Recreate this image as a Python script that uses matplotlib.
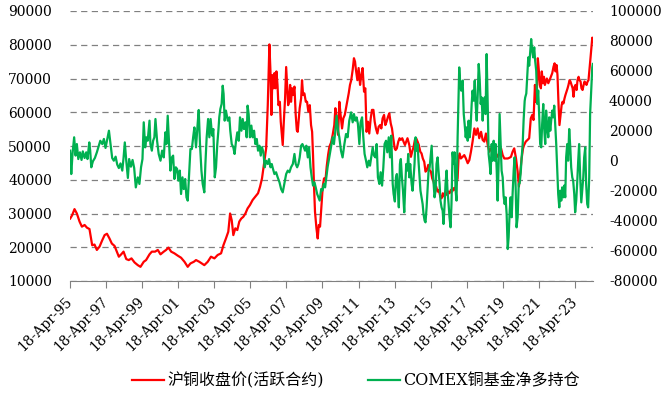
import numpy as np
import matplotlib
matplotlib.use("Agg")
import matplotlib.pyplot as plt

plt.rcParams['font.family'] = ['DejaVu Serif', 'Noto Sans CJK SC']
plt.rcParams['axes.unicode_minus'] = False

# 沪铜收盘价 (decimal year, 元/吨)
cu_t = [1995.30, 1995.41, 1995.54, 1995.67, 1995.82, 1995.95, 1996.10, 1996.23, 1996.37, 1996.52,
        1996.65, 1996.78, 1996.93, 1997.08, 1997.21, 1997.34, 1997.48, 1997.61, 1997.76, 1997.85,
        1998.00, 1998.13, 1998.26, 1998.41, 1998.55, 1998.70, 1998.87, 1999.05, 1999.20, 1999.38,
        1999.51, 1999.70, 1999.83, 2000.01, 2000.16, 2000.31, 2000.49, 2000.62, 2000.75, 2000.90,
        2001.08, 2001.27, 2001.45, 2001.64, 2001.82, 2001.97, 2002.16, 2002.28, 2002.46, 2002.74,
        2002.93, 2003.11, 2003.30, 2003.48, 2003.67, 2003.80, 2003.94, 2004.07, 2004.17, 2004.26,
        2004.35, 2004.46, 2004.57, 2004.68, 2004.79, 2004.90, 2005.02, 2005.14, 2005.27, 2005.42,
        2005.57, 2005.72, 2005.83, 2005.94, 2006.07, 2006.17, 2006.26, 2006.35, 2006.41, 2006.46,
        2006.52, 2006.57, 2006.63, 2006.68, 2006.74, 2006.80, 2006.85, 2006.93, 2006.98, 2007.04,
        2007.09, 2007.15, 2007.22, 2007.28, 2007.33, 2007.39, 2007.44, 2007.50, 2007.55, 2007.61,
        2007.66, 2007.74, 2007.81, 2007.87, 2007.92, 2007.98, 2008.03, 2008.11, 2008.16, 2008.22,
        2008.29, 2008.37, 2008.44, 2008.51, 2008.59, 2008.66, 2008.72, 2008.77, 2008.83, 2008.88,
        2008.96, 2009.03, 2009.09, 2009.16, 2009.24, 2009.31, 2009.38, 2009.46, 2009.53, 2009.61,
        2009.68, 2009.77, 2009.86, 2009.95, 2010.01, 2010.08, 2010.16, 2010.23, 2010.30, 2010.38,
        2010.45, 2010.53, 2010.60, 2010.67, 2010.75, 2010.82, 2010.89, 2010.97, 2011.04, 2011.10,
        2011.15, 2011.23, 2011.30, 2011.38, 2011.45, 2011.52, 2011.60, 2011.67, 2011.74, 2011.82,
        2011.89, 2011.97, 2012.04, 2012.12, 2012.19, 2012.26, 2012.34, 2012.41, 2012.49, 2012.56,
        2012.63, 2012.71, 2012.78, 2012.85, 2012.93, 2013.00, 2013.08, 2013.15, 2013.22, 2013.30,
        2013.35, 2013.42, 2013.50, 2013.57, 2013.64, 2013.72, 2013.79, 2013.87, 2013.94, 2014.01,
        2014.11, 2014.20, 2014.27, 2014.35, 2014.42, 2014.49, 2014.57, 2014.64, 2014.72, 2014.79,
        2014.86, 2014.94, 2015.01, 2015.09, 2015.16, 2015.23, 2015.31, 2015.38, 2015.46, 2015.53,
        2015.60, 2015.68, 2015.75, 2015.83, 2015.90, 2015.97, 2016.05, 2016.12, 2016.20, 2016.27,
        2016.34, 2016.42, 2016.49, 2016.57, 2016.64, 2016.71, 2016.79, 2016.84, 2016.90, 2016.97,
        2017.07, 2017.16, 2017.25, 2017.35, 2017.44, 2017.53, 2017.62, 2017.72, 2017.81, 2017.90,
        2017.99, 2018.09, 2018.18, 2018.27, 2018.36, 2018.46, 2018.55, 2018.64, 2018.73, 2018.83,
        2018.92, 2019.01, 2019.11, 2019.20, 2019.29, 2019.38, 2019.48, 2019.57, 2019.66, 2019.75,
        2019.84, 2019.93, 2020.03, 2020.12, 2020.19, 2020.27, 2020.34, 2020.42, 2020.48, 2020.57,
        2020.67, 2020.76, 2020.85, 2020.93, 2021.00, 2021.08, 2021.13, 2021.19, 2021.24, 2021.30,
        2021.35, 2021.41, 2021.46, 2021.52, 2021.58, 2021.63, 2021.69, 2021.74, 2021.82, 2021.89,
        2021.96, 2022.04, 2022.11, 2022.17, 2022.22, 2022.28, 2022.33, 2022.39, 2022.44, 2022.50,
        2022.56, 2022.61, 2022.66, 2022.72, 2022.77, 2022.83, 2022.89, 2022.94, 2023.00, 2023.05,
        2023.11, 2023.17, 2023.22, 2023.28, 2023.33, 2023.39, 2023.44, 2023.50, 2023.55, 2023.61,
        2023.66, 2023.72, 2023.78, 2023.83, 2023.89, 2023.94, 2024.00, 2024.05, 2024.11, 2024.16,
        2024.22, 2024.26, 2024.29]
cu_v = [28500, 29500, 31300, 30000, 27600, 26100, 26600, 25800, 25400, 20600,
        20800, 19200, 20200, 22100, 23600, 24000, 22600, 21100, 20400, 19200,
        17200, 17900, 18700, 16500, 16200, 16700, 15500, 14700, 14200, 15700,
        16200, 17900, 18700, 18700, 19200, 17900, 18700, 19200, 19900, 18700,
        18200, 17500, 16900, 15700, 14200, 15200, 15700, 16200, 15700, 14700,
        15700, 17200, 16700, 17700, 18200, 20600, 22600, 24600, 30000, 28000,
        23600, 25600, 25100, 27600, 28500, 29000, 30000, 31500, 32500, 34000,
        35000, 36000, 37900, 40400, 45300, 49300, 62100, 80100, 72000, 59200,
        71000, 67100, 71600, 67100, 72100, 68100, 62100, 63100, 57200, 53300,
        50300, 57200, 64100, 73400, 68100, 62100, 63100, 68100, 63100, 67100,
        65100, 67600, 59200, 54700, 54200, 58200, 61200, 64100, 69500, 65100,
        65600, 63100, 63100, 60200, 62100, 56200, 54200, 47300, 37500, 30500,
        25600, 22600, 26600, 26100, 32500, 38000, 40400, 39900, 44000, 47500,
        49800, 51000, 53300, 56200, 61200, 58200, 53300, 63100, 59200, 55200,
        58200, 59200, 61200, 63100, 65600, 68100, 69500, 72600, 76000, 75000,
        72600, 69500, 73100, 68100, 71000, 73100, 66100, 67100, 54200, 57200,
        53700, 58200, 60700, 60700, 57200, 55200, 53700, 55700, 56200, 55200,
        58200, 59200, 56200, 57200, 58700, 59700, 56700, 55200, 52300, 49300,
        48800, 49300, 51300, 52300, 51800, 52300, 51300, 50300, 51300, 52300,
        50300, 46800, 48300, 49800, 51800, 52300, 51300, 50300, 48300, 47800,
        46300, 45300, 42400, 42900, 44400, 42900, 42400, 40400, 39400, 37500,
        38000, 36500, 37000, 35000, 34500, 36000, 35000, 36500, 35500, 36500,
        36000, 37000, 36500, 37500, 37000, 38500, 40400, 46300, 47800, 46300,
        46800, 47300, 46300, 44900, 45800, 48300, 51300, 55200, 53300, 55200,
        52300, 54200, 51800, 51300, 53700, 50300, 48300, 49300, 48300, 49300,
        47800, 46800, 47800, 49300, 47300, 46300, 46300, 46300, 46500, 46800,
        48300, 49300, 46300, 42400, 38000, 42400, 46300, 49300, 50300, 51300,
        51800, 52300, 58200, 59200, 57700, 68100, 63100, 67100, 76000, 72100,
        68100, 67100, 72100, 68600, 70500, 68100, 69100, 70000, 68600, 69500,
        70500, 71600, 73500, 74500, 72100, 74000, 71000, 62100, 56200, 59200,
        62100, 63100, 62600, 64100, 65100, 66100, 67100, 68100, 69500, 69100,
        68100, 67100, 64600, 67600, 68100, 66600, 69500, 70500, 69500, 69100,
        67100, 66600, 68100, 69100, 68600, 68100, 69100, 69500, 73000, 76000,
        79900, 82100, 81000]

# COMEX铜基金净多持仓 (decimal year, 手)
fund_t = [1995.30, 1995.36, 1995.43, 1995.52, 1995.60, 1995.67, 1995.75, 1995.84, 1995.93, 1996.00,
          1996.10, 1996.19, 1996.26, 1996.36, 1996.41, 1996.47, 1996.56, 1996.67, 1996.78, 1996.89,
          1996.97, 1997.08, 1997.17, 1997.26, 1997.34, 1997.45, 1997.54, 1997.63, 1997.72, 1997.82,
          1997.91, 1998.00, 1998.09, 1998.19, 1998.26, 1998.33, 1998.41, 1998.50, 1998.57, 1998.67,
          1998.76, 1998.85, 1998.94, 1999.05, 1999.14, 1999.23, 1999.31, 1999.38, 1999.46, 1999.53,
          1999.60, 1999.70, 1999.75, 1999.83, 1999.90, 1999.97, 2000.03, 2000.12, 2000.21, 2000.31,
          2000.40, 2000.49, 2000.58, 2000.64, 2000.71, 2000.79, 2000.86, 2000.94, 2001.01, 2001.08,
          2001.16, 2001.23, 2001.30, 2001.38, 2001.45, 2001.53, 2001.60, 2001.68, 2001.75, 2001.82,
          2001.90, 2001.97, 2002.05, 2002.12, 2002.19, 2002.28, 2002.37, 2002.43, 2002.50, 2002.58,
          2002.65, 2002.74, 2002.80, 2002.87, 2002.95, 2003.02, 2003.09, 2003.17, 2003.24, 2003.32,
          2003.39, 2003.46, 2003.52, 2003.57, 2003.63, 2003.70, 2003.76, 2003.81, 2003.87, 2003.94,
          2004.04, 2004.13, 2004.18, 2004.26, 2004.35, 2004.42, 2004.50, 2004.57, 2004.65, 2004.72,
          2004.80, 2004.87, 2004.94, 2005.02, 2005.09, 2005.14, 2005.20, 2005.27, 2005.35, 2005.42,
          2005.50, 2005.57, 2005.65, 2005.72, 2005.80, 2005.87, 2005.94, 2006.02, 2006.09, 2006.17,
          2006.26, 2006.33, 2006.41, 2006.48, 2006.55, 2006.63, 2006.72, 2006.81, 2006.91, 2007.00,
          2007.09, 2007.18, 2007.28, 2007.37, 2007.46, 2007.55, 2007.65, 2007.74, 2007.81, 2007.89,
          2007.96, 2008.03, 2008.11, 2008.18, 2008.26, 2008.33, 2008.40, 2008.48, 2008.55, 2008.63,
          2008.70, 2008.77, 2008.85, 2008.92, 2009.00, 2009.07, 2009.14, 2009.22, 2009.29, 2009.37,
          2009.44, 2009.51, 2009.58, 2009.67, 2009.77, 2009.86, 2009.93, 2010.01, 2010.08, 2010.16,
          2010.23, 2010.32, 2010.41, 2010.51, 2010.60, 2010.69, 2010.78, 2010.88, 2010.97, 2011.04,
          2011.12, 2011.19, 2011.26, 2011.34, 2011.41, 2011.49, 2011.56, 2011.63, 2011.71, 2011.78,
          2011.86, 2011.93, 2012.00, 2012.08, 2012.15, 2012.23, 2012.30, 2012.37, 2012.45, 2012.52,
          2012.60, 2012.67, 2012.74, 2012.82, 2012.89, 2012.97, 2013.04, 2013.11, 2013.19, 2013.24,
          2013.31, 2013.37, 2013.42, 2013.48, 2013.53, 2013.59, 2013.64, 2013.70, 2013.76, 2013.83,
          2013.89, 2013.94, 2014.00, 2014.05, 2014.11, 2014.16, 2014.24, 2014.29, 2014.35, 2014.40,
          2014.46, 2014.51, 2014.57, 2014.62, 2014.68, 2014.73, 2014.79, 2014.85, 2014.90, 2014.96,
          2015.01, 2015.07, 2015.12, 2015.18, 2015.24, 2015.29, 2015.35, 2015.40, 2015.46, 2015.51,
          2015.57, 2015.62, 2015.68, 2015.73, 2015.79, 2015.84, 2015.90, 2015.96, 2016.01, 2016.07,
          2016.12, 2016.18, 2016.23, 2016.29, 2016.34, 2016.40, 2016.45, 2016.51, 2016.57, 2016.62,
          2016.68, 2016.73, 2016.79, 2016.84, 2016.88, 2016.94, 2016.99, 2017.07, 2017.13, 2017.18,
          2017.24, 2017.29, 2017.35, 2017.40, 2017.46, 2017.51, 2017.57, 2017.62, 2017.68, 2017.74,
          2017.79, 2017.85, 2017.90, 2017.96, 2018.01, 2018.07, 2018.12, 2018.18, 2018.23, 2018.29,
          2018.34, 2018.40, 2018.46, 2018.51, 2018.57, 2018.62, 2018.68, 2018.73, 2018.79, 2018.85,
          2018.90, 2018.96, 2019.01, 2019.07, 2019.12, 2019.18, 2019.23, 2019.29, 2019.34, 2019.40,
          2019.45, 2019.51, 2019.57, 2019.62, 2019.68, 2019.73, 2019.79, 2019.84, 2019.90, 2019.95,
          2020.01, 2020.06, 2020.12, 2020.18, 2020.23, 2020.29, 2020.34, 2020.40, 2020.45, 2020.51,
          2020.54, 2020.60, 2020.65, 2020.71, 2020.76, 2020.82, 2020.87, 2020.93, 2020.98, 2021.04,
          2021.09, 2021.15, 2021.21, 2021.26, 2021.32, 2021.37, 2021.43, 2021.48, 2021.54, 2021.59,
          2021.65, 2021.70, 2021.76, 2021.82, 2021.87, 2021.93, 2021.98, 2022.04, 2022.09, 2022.15,
          2022.20, 2022.26, 2022.31, 2022.37, 2022.43, 2022.48, 2022.54, 2022.59, 2022.65, 2022.70,
          2022.76, 2022.81, 2022.87, 2022.92, 2022.98, 2023.04, 2023.09, 2023.15, 2023.20, 2023.26,
          2023.31, 2023.37, 2023.42, 2023.48, 2023.53, 2023.59, 2023.65, 2023.70, 2023.76, 2023.81,
          2023.87, 2023.92, 2023.98, 2024.03, 2024.09, 2024.14, 2024.20, 2024.26, 2024.29]
fund_v = [6900, -8700, 4700, 15800, 3600, 11300, 1300, 5800, 700, 6400,
          2000, 5800, 1300, 12400, 6900, -4200, -200, 2000, 5800, 10200,
          13500, 11300, 14700, 8700, 13500, 20200, 11300, 2000, 200, 2900,
          -2400, -4700, -1600, -6400, 2000, 12400, 200, -11300, 1300, -3800,
          700, -4700, -17600, -10900, -15300, -4200, 1300, 25800, 9100, 15800,
          13500, 26900, 11300, 6900, 13500, 15800, 28000, 13500, 4700, 200,
          6900, 2400, 19100, 11300, 30200, 11300, -6400, 2400, 3600, -12000,
          -4200, -5300, -13100, -6400, -22000, -10900, -18700, -12000, -24200, -26400,
          -8700, 8000, 8000, 15800, 22400, 9100, 24700, 34000, 11300, -6400,
          -15300, -20900, -2000, 15800, 28000, 15800, 28000, 17000, 21300, -10900,
          -4200, 11300, 20200, 29100, 34700, 38000, 50200, 44700, 26900, 33600,
          26900, 29100, 20200, 11300, 9100, 4700, 13500, 19100, 13500, 29100,
          20200, 28000, 21300, 25800, 15800, 36900, 31300, 15800, 23600, 15800,
          20200, 11300, 14700, 6900, 10200, 3600, 9100, 5800, -4200, 200,
          -2000, 1300, -4200, -2000, -5300, -8700, -7500, -10900, -14200, -18700,
          -20900, -15300, -8700, -6400, -7500, -4200, -2000, 4700, -2000, -4200,
          -2000, 2400, 10200, 11300, 9100, 6900, 10200, 2400, 9100, -4200,
          -10900, -16400, -14200, -17600, -22000, -24200, -26400, -18700, -19800, -15300,
          -17600, -10900, -4000, 2400, 9100, 15800, 11300, 20200, 30200, 20200,
          15800, 6900, 2400, 11300, 18000, 15800, 26900, 32400, 25800, 31300,
          26900, 29100, 24700, 11300, 25800, 29100, 15800, 4700, 200, -4200,
          200, -3100, 2400, 9100, 3600, 2400, 11300, -10900, -15300, -7500,
          -16400, -4200, 11300, 13500, 5800, 15800, 2400, 16900, -15300, -22000,
          -27000, -10900, -8700, -19800, -30900, -2000, 1300, -10900, -19800, -34200,
          -15300, -2000, -6400, 4700, -10900, -2000, -15300, -19800, -10900, -2000,
          15800, 6900, 11300, 200, -10900, -19800, -24200, -28700, -35300, -39800,
          -40900, -30900, -19800, -6400, -4200, 2400, 10200, -4200, -15300, -24200,
          -19800, -2000, 2400, -6400, -15300, -26400, -30900, -33100, -42000, -28700,
          -15300, -6400, -19800, -28700, -37500, -44200, -28700, 5800, -2000, 5800,
          -19800, -26400, 15800, 42400, 62400, 51000, 46900, 53600, 31300, 24700,
          15800, 22400, 13500, 26900, 15800, 22400, 38000, 46900, 40200, 53600,
          38000, 26900, 42400, 64700, 55800, 38000, 42400, 26900, 38000, 42400,
          31300, 71300, 38000, 4700, -2000, -8700, 11300, 200, 13500, 200,
          11300, -6400, -26400, 200, 31300, 11300, -6400, -10900, -23100, -28700,
          -24200, -35300, -58700, -50900, -33100, -24200, -37500, -22000, -6400, 2400,
          -17600, -44200, -37500, -15300, -15000, -8000, 2000, 11300, 26900, 40000,
          42400, 45000, 55800, 69100, 63500, 73600, 81300, 73600, 69100, 75800,
          66900, 60200, 38000, 47000, 29100, 11300, 9100, 24700, 38000, 22400,
          11300, 33600, 22400, 15800, 29100, 20200, 26900, 33600, 29100, 36900,
          24700, 11300, -4200, -22000, -30900, -19800, -26400, -17600, -24200, -16400,
          -24200, 2400, 11300, 200, 21300, 9100, -4200, -10900, -13100, -22000,
          -34200, -26400, -15300, 200, 11300, -10900, -27600, -19800, -10900, 2400,
          9100, -15300, -28700, -30900, -10900, 31300, 46900, 62400, 64700]

tick_years = list(range(1995, 2024, 2))
tick_labels = ['18-Apr-%02d' % (y % 100) for y in tick_years]

fig = plt.figure(figsize=(6.67, 3.95), dpi=100)
ax = fig.add_axes([70 / 667, 1 - 281 / 395, 523 / 667, 270 / 395])
ax2 = ax.twinx()

l1, = ax.plot(cu_t, cu_v, color='#FF0000', lw=1.6, label='沪铜收盘价(活跃合约)')
l2, = ax2.plot(fund_t, fund_v, color='#00B050', lw=1.6, label='COMEX铜基金净多持仓')

ax.set_xlim(1995.29, 2024.3)
ax.set_ylim(10000, 90000)
ax.set_yticks(range(10000, 90001, 10000))
ax2.set_ylim(-80000, 100000)
ax2.set_yticks(range(-80000, 100001, 20000))

ax.yaxis.grid(True, color='#808080', linestyle=(0, (5, 3.5)), linewidth=0.9)
ax.set_axisbelow(True)

ax.set_xticks([y + 107 / 365 for y in tick_years])
ax.set_xticklabels(tick_labels, rotation=45, ha='right', va='center', rotation_mode='anchor')

for a in (ax, ax2):
    for s in ('left', 'right', 'top', 'bottom'):
        a.spines[s].set_visible(False)
ax.spines['bottom'].set_visible(True)
ax.spines['bottom'].set_color('#808080')

ax.tick_params(axis='x', direction='out', length=5, color='#808080', labelsize=10, pad=8)
ax.tick_params(axis='y', length=0, labelsize=10, pad=13)
ax2.tick_params(axis='y', length=0, labelsize=10, pad=11.5)

fig.legend(handles=[l1, l2], loc='center', bbox_to_anchor=(0.534, 0.035), ncol=2,
           frameon=False, fontsize=11.5, handlelength=2.0, handletextpad=0.2,
           columnspacing=2.8)

fig.savefig('out.png', dpi=100)
